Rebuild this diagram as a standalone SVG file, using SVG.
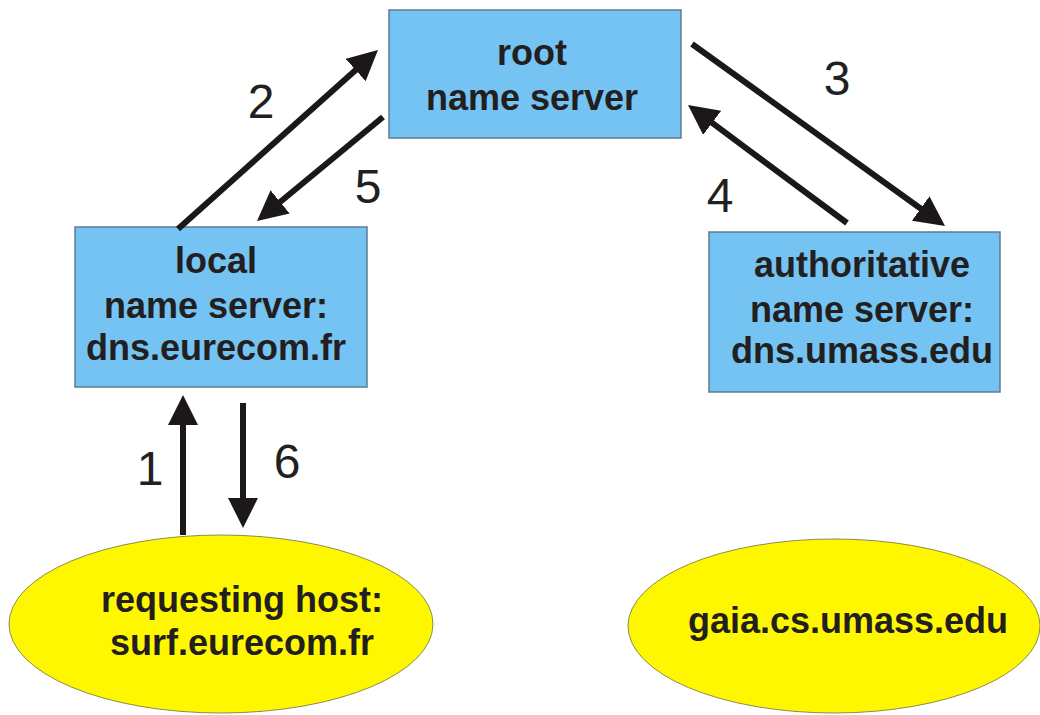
<svg xmlns="http://www.w3.org/2000/svg" width="1040" height="715" viewBox="0 0 1040 715">
<style>
.box{fill:#74c3f2;stroke:#5b7d92;stroke-width:1.5}
.host{fill:#fff700;stroke:#8c8c4a;stroke-width:1}
.t{font-family:"Liberation Sans",Arial,sans-serif;font-weight:bold;font-size:36px;fill:#231f20;text-anchor:middle}
.n{font-family:"Liberation Sans",Arial,sans-serif;font-size:48px;fill:#231f20;text-anchor:middle}
.a{stroke:#1c1817;stroke-width:6;fill:none;marker-end:url(#head)}
</style>
<defs>
<marker id="head" markerUnits="userSpaceOnUse" markerWidth="30" markerHeight="30" viewBox="0 0 30 30" refX="2" refY="15" orient="auto">
<path d="M0,0 L30,15 L0,30 z" fill="#1c1817"/>
</marker>
</defs>
<rect width="1040" height="715" fill="#ffffff"/>
<g id="root">
<rect class="box" x="389" y="10" width="292" height="128"/>
<text class="t" x="532" y="65">root</text>
<text class="t" x="532" y="110">name server</text>
</g>
<g id="local">
<rect class="box" x="75" y="227" width="292" height="160"/>
<text class="t" x="216" y="273">local</text>
<text class="t" x="216" y="318">name server:</text>
<text class="t" x="216" y="360">dns.eurecom.fr</text>
</g>
<g id="authoritative">
<rect class="box" x="709" y="232" width="291" height="160"/>
<text class="t" x="862" y="277">authoritative</text>
<text class="t" x="862" y="322">name server:</text>
<text class="t" x="862" y="363">dns.umass.edu</text>
</g>
<g id="requesting">
<ellipse class="host" cx="221" cy="624" rx="212" ry="89"/>
<text class="t" x="242" y="612">requesting host:</text>
<text class="t" x="242" y="655">surf.eurecom.fr</text>
</g>
<g id="gaia">
<ellipse class="host" cx="834" cy="626" rx="206" ry="87"/>
<text class="t" x="848" y="633">gaia.cs.umass.edu</text>
</g>
<g id="connectors">
<line class="a" x1="183" y1="535" x2="183" y2="423"/>
<line class="a" x1="178" y1="229" x2="357.1" y2="68.7"/>
<line class="a" x1="692" y1="44" x2="922.3" y2="209.7"/>
<line class="a" x1="847" y1="223" x2="710.5" y2="121.7"/>
<line class="a" x1="383" y1="117" x2="278.6" y2="203.2"/>
<line class="a" x1="243" y1="403" x2="243" y2="500"/>
<text class="n" x="150" y="485">1</text>
<text class="n" x="261" y="118">2</text>
<text class="n" x="837" y="95">3</text>
<text class="n" x="720" y="212">4</text>
<text class="n" x="368" y="203">5</text>
<text class="n" x="287" y="478">6</text>
</g>
</svg>
